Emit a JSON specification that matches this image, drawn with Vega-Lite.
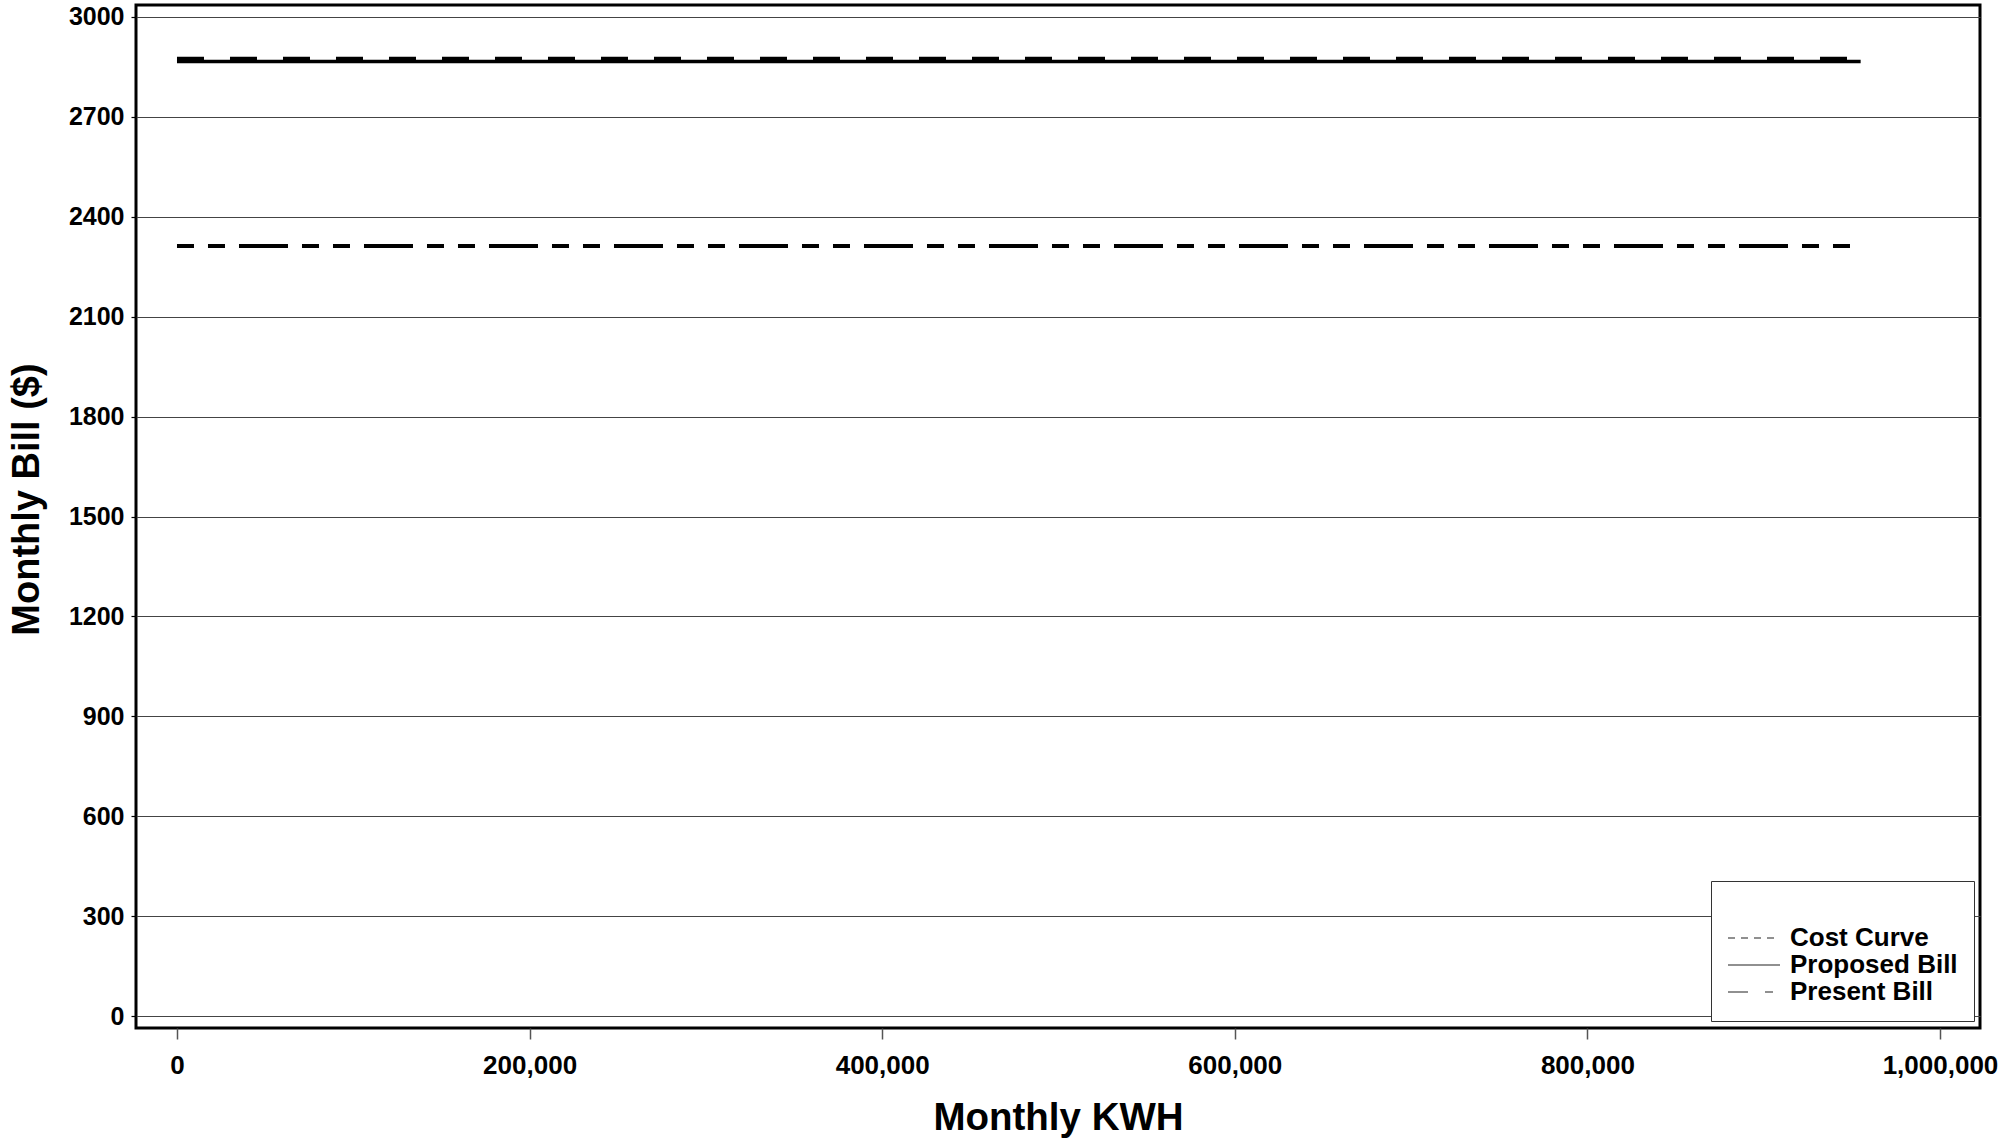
{
  "$schema": "https://vega.github.io/schema/vega-lite/v6.json",
  "autosize": {"type": "none"},
  "padding": {"left": 136, "top": 5, "right": 27, "bottom": 114},
  "width": 1844,
  "height": 1023,
  "background": "white",
  "config": {
    "font": "Liberation Sans",
    "view": {"stroke": "#000", "strokeWidth": 3},
    "axis": {"labelFont": "Liberation Sans", "titleFont": "Liberation Sans", "labelFontWeight": "bold", "titleFontWeight": "bold", "labelColor": "#000", "titleColor": "#000"},
    "legend": {"labelFont": "Liberation Sans", "titleFont": "Liberation Sans"}
  },
  "data": {
    "values": [
      {"kwh": 0, "bill": 2866, "series": "Proposed Bill"},
      {"kwh": 955000, "bill": 2866, "series": "Proposed Bill"},
      {"kwh": 0, "bill": 2874, "series": "Cost Curve"},
      {"kwh": 955000, "bill": 2874, "series": "Cost Curve"},
      {"kwh": 0, "bill": 2312, "series": "Present Bill"},
      {"kwh": 952000, "bill": 2312, "series": "Present Bill"}
    ]
  },
  "encoding": {
    "x": {
      "field": "kwh",
      "type": "quantitative",
      "scale": {"domain": [-23250, 1022700], "nice": false, "zero": false},
      "axis": {
        "title": "Monthly KWH",
        "values": [0, 200000, 400000, 600000, 800000, 1000000],
        "format": ",d",
        "domain": false,
        "grid": false,
        "tickSize": 11,
        "tickColor": "#555",
        "tickWidth": 1.5,
        "labelFontSize": 26,
        "labelBaseline": "alphabetic",
        "labelPadding": 34,
        "labelFlush": false,
        "labelOverlap": false,
        "titleFontSize": 38.5,
        "titleBaseline": "alphabetic",
        "titleY": 101
      }
    },
    "y": {
      "field": "bill",
      "type": "quantitative",
      "scale": {"domain": [-36, 3036], "nice": false, "zero": false},
      "axis": {
        "title": "Monthly Bill ($)",
        "values": [0, 300, 600, 900, 1200, 1500, 1800, 2100, 2400, 2700, 3000],
        "format": "d",
        "domain": false,
        "grid": true,
        "gridColor": "#444",
        "gridWidth": 1.2,
        "gridOpacity": 1,
        "tickSize": 5,
        "tickColor": "#000",
        "tickWidth": 1.2,
        "labelFontSize": 25,
        "labelPadding": 7,
        "labelFlush": false,
        "labelOverlap": false,
        "titleFontSize": 38,
        "titlePadding": 22,
        "titleY": 494
      }
    }
  },
  "layer": [
    {
      "transform": [{"filter": "datum.series === 'Proposed Bill'"}],
      "mark": {"type": "line", "color": "#000", "strokeWidth": 3.5, "strokeCap": "butt"}
    },
    {
      "transform": [{"filter": "datum.series === 'Cost Curve'"}],
      "mark": {"type": "line", "color": "#000", "strokeWidth": 4.5, "strokeCap": "butt", "strokeDash": [27, 26]}
    },
    {
      "transform": [{"filter": "datum.series === 'Present Bill'"}],
      "mark": {"type": "line", "color": "#000", "strokeWidth": 4, "strokeCap": "butt", "strokeDash": [17, 14, 17, 14, 49, 14]}
    },
    {
      "transform": [{"filter": "datum.kwh === 0"}],
      "mark": {"type": "line", "color": "#222", "strokeWidth": 1.2, "strokeCap": "butt"},
      "encoding": {
        "strokeDash": {
          "field": "series",
          "type": "nominal",
          "scale": {
            "domain": ["Cost Curve", "Proposed Bill", "Present Bill"],
            "range": [[7, 6], [1, 0], [20, 17, 8, 7]]
          },
          "legend": {
            "title": " ",
            "titleFontSize": 15,
            "titlePadding": 12,
            "orient": "none",
            "legendX": 1575,
            "legendY": 876,
            "padding": 16,
            "strokeColor": "#333",
            "fillColor": "#fff",
            "symbolType": "M-1,0H3",
            "symbolSize": 676,
            "symbolStrokeWidth": 1.2,
            "symbolStrokeColor": "#222",
            "labelFontSize": 26,
            "labelFontWeight": "bold",
            "labelColor": "#000",
            "labelLimit": 400,
            "labelOffset": 35,
            "rowPadding": -7
          }
        }
      }
    }
  ]
}
